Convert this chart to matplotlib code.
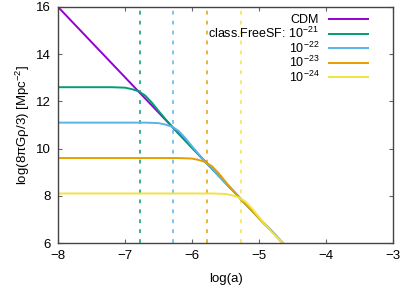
import numpy as np
import matplotlib
matplotlib.use("Agg")
import matplotlib.pyplot as plt

# ── Data ──
cdm_x = [-8.0, -4.6]
cdm_y = [16.0, 5.87]

m21_x = [-8.0, -7.2, -7.0, -6.9, -6.8, -6.7, -6.6, -6.5, -6.4, -6.3, -6.2, -4.6]
m21_y = [12.6, 12.6, 12.58, 12.52, 12.43, 12.25, 11.95, 11.60, 11.26, 10.94, 10.63, 5.87]

m22_x = [-8.0, -6.7, -6.5, -6.4, -6.3, -6.2, -6.1, -6.0, -5.9, -5.8, -4.6]
m22_y = [11.1, 11.1, 11.08, 11.02, 10.93, 10.75, 10.45, 10.10, 9.76, 9.44, 5.87]

m23_x = [-8.0, -6.2, -6.0, -5.9, -5.8, -5.7, -5.6, -5.5, -5.4, -5.3, -4.6]
m23_y = [9.6, 9.6, 9.58, 9.52, 9.43, 9.25, 8.95, 8.60, 8.26, 7.94, 5.87]

m24_x = [-8.0, -5.7, -5.5, -5.4, -5.3, -5.2, -5.1, -5.0, -4.9, -4.8, -4.6]
m24_y = [8.1, 8.1, 8.08, 8.02, 7.93, 7.75, 7.45, 7.10, 6.76, 6.44, 5.87]

# vertical dashed markers (log a)
vlines = [-6.78, -6.28, -5.78, -5.27]

labels = ["CDM", r"class.FreeSF: 10$^{-21}$", r"10$^{-22}$", r"10$^{-23}$", r"10$^{-24}$"]
colors = ["#9400d3", "#009e73", "#56b4e9", "#e69f00", "#f0e442"]

plt.rcParams["font.family"] = ["Liberation Sans", "DejaVu Sans"]
plt.rcParams["mathtext.fontset"] = "custom"
plt.rcParams["mathtext.rm"] = "Liberation Sans"
plt.rcParams["mathtext.it"] = "Liberation Sans"

fig, ax = plt.subplots(figsize=(4.0, 2.88), dpi=100)
fig.subplots_adjust(left=0.145, right=0.9825, top=0.976, bottom=0.156)

for xv, c in zip(vlines, colors[1:]):
    ax.axvline(xv, color=c, lw=1.1, dashes=(2.5, 4))

series = [(cdm_x, cdm_y), (m21_x, m21_y), (m22_x, m22_y), (m23_x, m23_y), (m24_x, m24_y)]
for (xs, ys), c, lab in zip(series, colors, labels):
    ax.plot(xs, ys, color=c, lw=1.4, label=lab, solid_capstyle="butt")

ax.set_xlim(-8, -3)
ax.set_ylim(6, 16)
ax.set_xticks([-8, -7, -6, -5, -4, -3])
ax.set_yticks([6, 8, 10, 12, 14, 16])
ax.tick_params(direction="in", length=3, width=0.8, top=True, right=True,
               labelsize=9.5, pad=5, color="#666666")
for s in ax.spines.values():
    s.set_linewidth(1.0)
    s.set_color("#444444")

ax.set_xlabel("log(a)", fontsize=9.5, labelpad=8)
ax.set_ylabel(r"log(8$\pi$G$\rho$/3) [Mpc$^{-2}$]", fontsize=9.5, labelpad=3)

leg = ax.legend(loc="upper right", bbox_to_anchor=(0.955, 1.005), frameon=False,
                markerfirst=False, fontsize=9, handlelength=3.3, handletextpad=0.7,
                labelspacing=-0.05, borderpad=0.2)

plt.savefig("out.png", dpi=100)
plt.close()
